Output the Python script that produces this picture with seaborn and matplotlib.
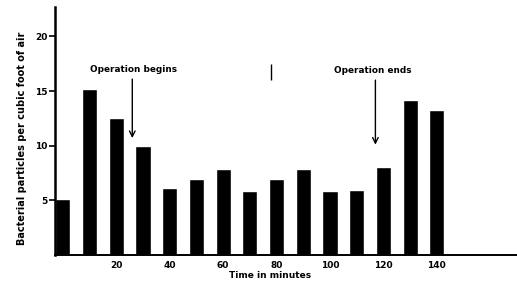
import matplotlib
matplotlib.use("Agg")
import matplotlib.pyplot as plt
import seaborn as sns

# data
minutes = [0, 10, 20, 30, 40, 50, 60, 70, 80, 90, 100, 110, 120, 130, 140]
particles = [5.1, 15.2, 12.5, 10.0, 6.1, 7.0, 7.9, 5.9, 7.0, 7.9, 5.9, 6.0, 8.1, 14.2, 13.3]
xticks = [20, 40, 60, 80, 100, 120, 140]
yticks = [5, 10, 15, 20]

sns.set_style("white")
plt.rcParams["font.family"] = ["DejaVu Sans"]
plt.rcParams.update({"text.color": "black", "axes.labelcolor": "black",
                     "xtick.color": "black", "ytick.color": "black",
                     "axes.edgecolor": "black"})

fig = plt.figure(figsize=(5.17, 2.87), dpi=100)
ax = fig.add_axes([0.106, 0.111, 0.894, 0.865])

sns.barplot(x=minutes, y=particles, native_scale=True, width=0.57,
            color="black", saturation=1, ax=ax)

ax.set_xlim(-3, 170)
ax.set_ylim(0, 22.7)
ax.set_xticks(xticks)
ax.set_yticks(yticks)
ax.tick_params(axis="x", length=0, pad=4, labelsize=6.5)
ax.tick_params(axis="y", length=4, width=1.2, pad=1, labelsize=6.5, direction="out", left=True)
for lab in ax.get_xticklabels() + ax.get_yticklabels():
    lab.set_fontweight("bold")

sns.despine(ax=ax)
ax.spines["left"].set_linewidth(1.8)
ax.spines["bottom"].set_linewidth(1.4)

ax.set_xlabel("Time in minutes", fontsize=6.5, fontweight="bold")
ax.xaxis.set_label_coords(0.465, -0.065)
ax.set_ylabel("Bacterial particles per cubic foot of air", fontsize=7.0,
              fontweight="bold")
ax.yaxis.set_label_coords(-0.06, 0.47)

arrow = dict(arrowstyle="->", color="black", lw=1.0, shrinkA=0, shrinkB=0)
ax.text(26.5, 16.6, "Operation begins", ha="center", va="bottom",
        fontsize=6.4, fontweight="bold")
ax.annotate("", xy=(26, 10.7), xytext=(26, 16.1), arrowprops=arrow)
ax.text(116, 16.5, "Operation ends", ha="center", va="bottom",
        fontsize=6.4, fontweight="bold")
ax.annotate("", xy=(117, 10.1), xytext=(117, 16.0), arrowprops=arrow)
# stray mark on the original scan
ax.vlines(78, 16.0, 17.5, color="black", lw=1)

fig.savefig("out.png", dpi=100)
